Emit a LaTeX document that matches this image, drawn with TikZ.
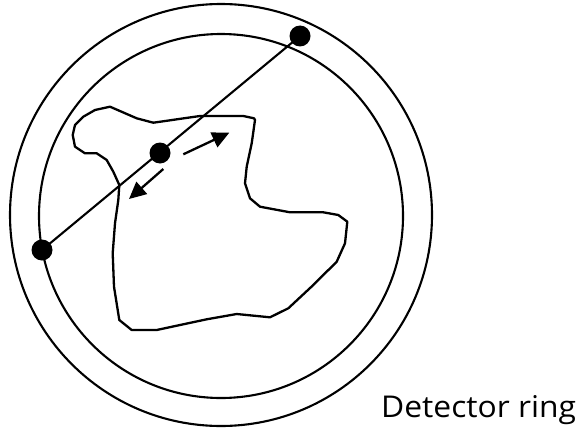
\documentclass[tikz,border=0pt]{standalone}
\usepackage{fontspec}
\setmainfont{Open Sans}
\usetikzlibrary{arrows.meta}
\begin{document}
\begin{tikzpicture}[x=1pt,y=-1pt,
  ring/.style={line width=2.1pt},
  blob/.style={line width=2.3pt,line join=round},
  dot/.style={circle,fill=black,inner sep=0pt,minimum size=21pt},
  ray/.style={line width=2.1pt},
  emit/.style={line width=2.3pt,-{Triangle[length=17pt,width=16pt]}},
  lbl/.style={font=\fontsize{30}{33}\selectfont,inner sep=0pt,anchor=base west,xscale=1.06}]
\useasboundingbox (0,0) rectangle (577,428);
\draw[ring] (221,215) circle[radius=211];
\draw[ring] (221,216) circle[radius=182];
\draw[blob] (110,106.7) -- (95,110) -- (83.3,116.7) -- (75,125) -- (72.7,135) -- (75,146.7) -- (85,153.3) -- (96.7,153.3) -- (106.7,160) -- (113.3,171.7) -- (119.3,185) -- (118.3,200) -- (115,223.3) -- (112.7,253.3) -- (114,286.7) -- (119.3,320) -- (131.7,330) -- (156.7,330) -- (180,325) -- (206.7,319.3) -- (236.7,314) -- (270,317.3) -- (288.3,308.3) -- (313.3,285) -- (336.7,261.7) -- (345,243.3) -- (347.3,221.7) -- (338.3,215) -- (323.3,212.3) -- (290,212.3) -- (260,206.7) -- (250,198.3) -- (245,183.3) -- (246.7,166.7) -- (251.7,143.3) -- (255,120) -- (254,118.3) -- (243.3,116) -- (200,116) -- (153.3,122.7) -- (136.7,118.3) -- cycle;
\node[dot] (t) at (300,36) {};
\node[dot] (l) at (42,250) {};
\node[dot] (m) at (160,153) {};
\draw[ray] (l.center) -- (t.center);
\coordinate (a1s) at (183.3,154.3);
\coordinate (a1e) at (229.3,132.7);
\coordinate (a2s) at (163.3,169);
\coordinate (a2e) at (129,199);
\draw[emit] (a1s) -- (a1e);
\draw[emit] (a2s) -- (a2e);
\node[lbl] (txt) at (381,417) {Detector ring};
\end{tikzpicture}
\end{document}
